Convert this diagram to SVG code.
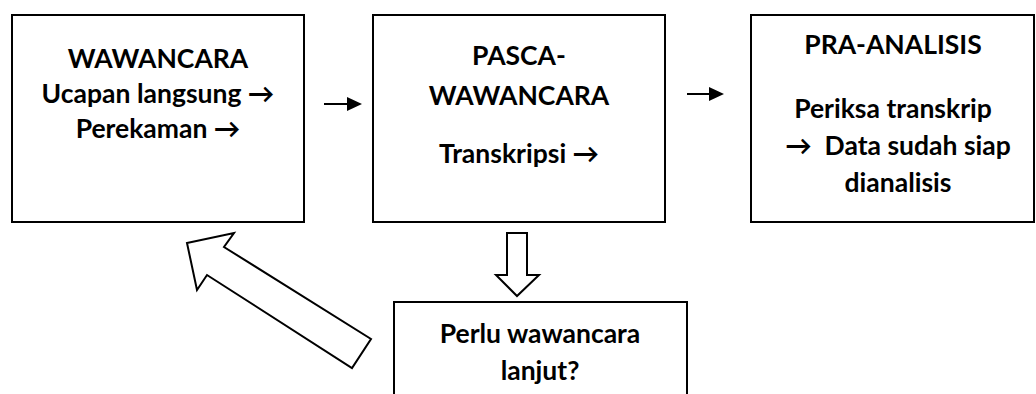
<svg xmlns="http://www.w3.org/2000/svg" width="1036" height="394" viewBox="0 0 1036 394">
<style>
.box{fill:#fff;stroke:#000;stroke-width:2}
.t{font-family:Lato,"Open Sans","DejaVu Sans",sans-serif;font-weight:bold;font-size:26.5px;fill:#000;text-anchor:middle;white-space:pre}
.ln{stroke:#000;stroke-width:2;fill:none}
.hd{fill:#000;stroke:none}
.blk{fill:#fff;stroke:#000;stroke-width:2;stroke-linejoin:miter}
</style>
<rect width="1036" height="394" fill="#fff"/>
<g id="wawancara">
<rect class="box" x="12" y="15" width="292" height="207"/>
<text class="t" x="158" y="68">WAWANCARA</text>
<text class="t" x="158" y="103">Ucapan langsung →</text>
<text class="t" x="158" y="138">Perekaman →</text>
</g>
<g id="pasca">
<rect class="box" x="373" y="15" width="292" height="207"/>
<text class="t" x="519" y="65">PASCA-</text>
<text class="t" x="519" y="105">WAWANCARA</text>
<text class="t" x="519" y="163">Transkripsi →</text>
</g>
<g id="pra">
<rect class="box" x="751" y="15" width="283" height="207"/>
<text class="t" x="893" y="54">PRA-ANALISIS</text>
<text class="t" x="893" y="118">Periksa transkrip</text>
<text class="t" x="898" y="155" xml:space="preserve">→  Data sudah siap</text>
<text class="t" x="898" y="192">dianalisis</text>
</g>
<g id="lanjut">
<rect class="box" x="394" y="302" width="293" height="100"/>
<text class="t" x="540" y="343">Perlu wawancara</text>
<text class="t" x="540" y="380">lanjut?</text>
</g>
<g id="connectors">
<line class="ln" x1="324" y1="104" x2="349" y2="104"/>
<polygon class="hd" points="347,97 362,104 347,111"/>
<line class="ln" x1="687" y1="94" x2="711" y2="94"/>
<polygon class="hd" points="709,87 724,94 709,101"/>
<polygon class="blk" points="507,233 527,233 527,275 539,275 517,296 496,275 507,275"/>
<polygon class="blk" points="187,243 234,233 224,247 371,339 352,368 207,275 197,290"/>
</g>
</svg>
